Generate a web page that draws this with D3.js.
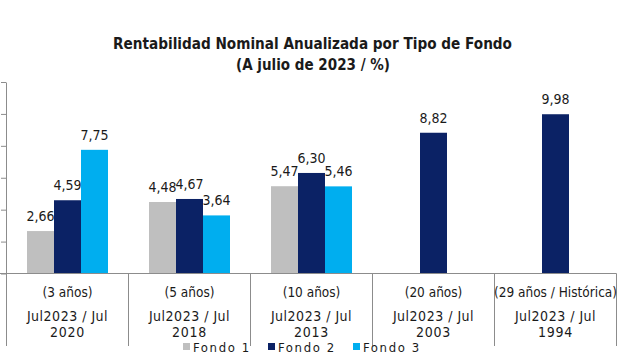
<!DOCTYPE html>
<html><head><meta charset="utf-8">
<script src="https://cdn.jsdelivr.net/npm/d3@7"></script>
<style>
html,body{margin:0;padding:0;background:#fff;}
svg{display:block;}
text{font-family:"DejaVu Sans Condensed","DejaVu Sans",sans-serif;fill:#1a1a1a;}
</style></head>
<body>
<svg id="chart" width="620" height="355"></svg>
<script>
const periods = ["(3 años)", "(5 años)", "(10 años)", "(20 años)", "(29 años / Histórica)"];
const rangeLine1 = ["Jul2023 / Jul", "Jul2023 / Jul", "Jul2023 / Jul", "Jul2023 / Jul", "Jul2023 / Jul"];
const rangeLine2 = ["2020", "2018", "2013", "2003", "1994"];
const seriesNames = ["Fondo 1", "Fondo 2", "Fondo 3"];
const fondo1 = [2.66, 4.48, 5.47, null, null];
const fondo2 = [4.59, 4.67, 6.30, 8.82, 9.98];
const fondo3 = [7.75, 3.64, 5.46, null, null];
const yTicks = [0, 2, 4, 6, 8, 10, 12];
const titleLines = ["Rentabilidad Nominal Anualizada por Tipo de Fondo", "(A julio de 2023 / %)"];

const colors = ["#bfbfbf", "#0b2265", "#00aeef"];
const seriesVals = [fondo1, fondo2, fondo3];

const svg = d3.select("#chart");
const mLeft = 6.5, mRight = 616.5, mTop = 82, mBottom = 273.5;

const x = d3.scaleBand().domain(periods).range([mLeft, mRight]).padding(0);
const y = d3.scaleLinear().domain([0, 12]).range([mBottom, mTop]);
const barW = x.bandwidth() * 0.2213;
const fmt = v => d3.format(".2f")(v).replace(".", ",");

// title
svg.append("text").attr("x", 312.5).attr("y", 49).attr("text-anchor", "middle")
  .style("font-weight", "bold").style("font-size", "15px")
  .attr("textLength", 399).attr("lengthAdjust", "spacingAndGlyphs")
  .text(titleLines[0]);
svg.append("text").attr("x", 313).attr("y", 70).attr("text-anchor", "middle")
  .style("font-weight", "bold").style("font-size", "15px")
  .attr("textLength", 154).attr("lengthAdjust", "spacingAndGlyphs")
  .text(titleLines[1]);

// bars
const groups = svg.append("g");
periods.forEach((p, i) => {
  const present = seriesVals.map((s, k) => ({k, v: s[i]})).filter(d => d.v != null);
  const c = x(p) + x.bandwidth() / 2;
  const sub = d3.scaleBand().domain(present.map(d => d.k))
    .range([c - present.length * barW / 2, c + present.length * barW / 2]);
  const g = groups.append("g");
  g.selectAll("rect").data(present).join("rect")
    .attr("x", d => sub(d.k)).attr("width", sub.bandwidth())
    .attr("y", d => y(d.v)).attr("height", d => y(0) - y(d.v))
    .attr("fill", d => colors[d.k]);
  g.selectAll("text").data(present).join("text")
    .attr("x", d => sub(d.k) + sub.bandwidth() / 2)
    .attr("y", d => y(d.v) - 10)
    .attr("text-anchor", "middle")
    .style("font-size", "14px")
    .text(d => fmt(d.v));
});

// y axis
const yAxis = svg.append("g").attr("transform", `translate(${mLeft - 0.5},0)`)
  .call(d3.axisLeft(y).tickValues(yTicks).tickSize(5).tickFormat("").tickSizeOuter(0));
yAxis.selectAll("path,line").attr("stroke", "#8c8c8c");

// x baseline
svg.append("line").attr("x1", 0).attr("x2", mRight).attr("y1", mBottom).attr("y2", mBottom)
  .attr("stroke", "#8c8c8c");

// category separators
const seps = [mLeft].concat(periods.map(p => x(p) + x.bandwidth()));
svg.selectAll(".sep").data(seps).join("line").attr("class", "sep")
  .attr("x1", d => Math.round(d) - 0.5).attr("x2", d => Math.round(d) - 0.5)
  .attr("y1", mBottom).attr("y2", 346).attr("stroke", "#8c8c8c");

// category labels
periods.forEach((p, i) => {
  const cx = x(p) + x.bandwidth() / 2;
  svg.append("text").attr("x", cx).attr("y", 297).attr("text-anchor", "middle")
    .style("font-size", "13.5px").text(p);
  svg.append("text").attr("x", cx).attr("y", 321).attr("text-anchor", "middle")
    .style("font-size", "14px").style("letter-spacing", "0.5px").text(rangeLine1[i]);
  svg.append("text").attr("x", cx).attr("y", 337).attr("text-anchor", "middle")
    .style("font-size", "14px").style("letter-spacing", "0.8px").text(rangeLine2[i]);
});

// legend
const lg = svg.append("g");
seriesNames.forEach((n, k) => {
  const lx = 183 + k * 85;
  lg.append("rect").attr("x", lx).attr("y", 343).attr("width", 7).attr("height", 7).attr("fill", colors[k]);
  lg.append("text").attr("x", lx + 10).attr("y", 351.5).style("font-size", "13px")
    .style("letter-spacing", "1.6px").text(n);
});
</script>
</body></html>
